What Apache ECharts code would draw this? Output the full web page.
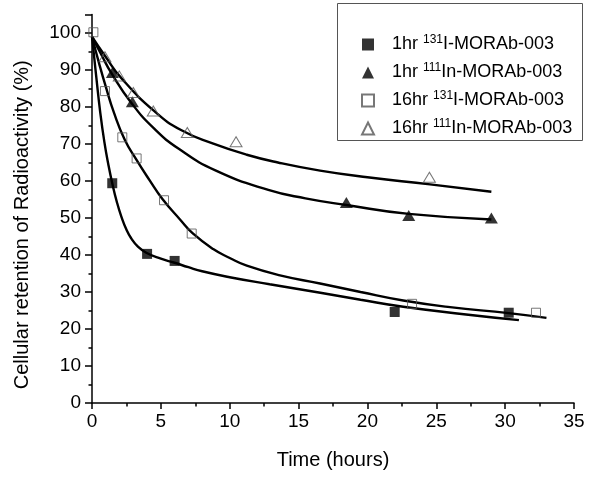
<!DOCTYPE html>
<html>
<head>
<meta charset="utf-8">
<script src="https://cdn.jsdelivr.net/npm/echarts@6/dist/echarts.min.js"></script>
<style>html,body{margin:0;padding:0;background:#fff}#c{width:600px;height:478px}</style>
</head>
<body>
<div id="c"></div>
<script>
// Measured data points [time (h), retention (%)]
const pts1hrI = [[1.47, 59.4], [4.0, 40.3], [6.0, 38.4], [21.98, 24.6], [30.26, 24.4]];
const pts1hrIn = [[1.48, 89.3], [2.93, 81.4], [18.47, 54.2], [23.0, 50.7], [29.0, 50.0]];
const pts16hrI = [[0.1, 100.2], [0.94, 84.3], [2.2, 71.8], [3.24, 66.1], [5.23, 54.8], [7.24, 45.8], [23.24, 26.8], [32.24, 24.4]];
const pts16hrIn = [[0.94, 93.6], [1.98, 88.4], [3.0, 83.9], [4.45, 78.9], [6.92, 73.1], [10.46, 70.6], [24.5, 61.0]];

// Fitted curves, points
const fit1hrI = [[0, 99], [0.3, 88.5], [0.6, 78.5], [0.9, 70.5], [1.2, 64.2], [1.47, 59.4], [1.8, 54.4], [2.13, 50.4], [2.53, 46.6], [2.85, 44.5], [3.3, 42.4], [3.94, 40.6], [5.0, 39.0], [6.0, 37.9], [7.0, 36.7], [8.0, 35.6], [10, 34.0], [12.9, 32.1], [16.58, 29.8], [19.5, 27.9], [22.6, 26.0], [27, 24.0], [31, 22.4]];
const fit16hrI = [[0, 99], [0.5, 92], [1, 85.5], [1.6, 78.4], [2.37, 71.2], [3.2, 65.9], [4.2, 60.1], [5.1, 55.2], [6.39, 49.6], [7.3, 45.9], [8.8, 41.6], [10, 39.2], [11.24, 37.1], [13.65, 34.5], [16.56, 32.3], [19.5, 30.0], [22.6, 27.7], [26, 25.9], [30.26, 24.3], [33, 23.0]];
const fit1hrIn = [[0, 99], [0.7, 94], [1.4, 89.2], [2.86, 81.1], [4.5, 74.2], [6.3, 68.7], [9, 62.8], [12.8, 57.6], [15.5, 55.3], [18.47, 53.5], [23, 51.1], [29, 49.6]];
const fit16hrIn = [[0, 99], [1, 93.5], [2.13, 87.8], [4.55, 78.8], [6.5, 73.7], [8.81, 70.1], [11.24, 67.1], [13.5, 65.0], [16.56, 62.8], [20, 61.0], [24.55, 59.1], [29, 57.1]];

const xTicks = {min: 0, max: 35, interval: 5};
const yTicks = {min: 0, max: 105, interval: 10};

const names = ['1hr 131I-MORAb-003', '1hr 111In-MORAb-003', '16hr 131I-MORAb-003', '16hr 111In-MORAb-003'];
const legendRich = {
  '1hr 131I-MORAb-003': '{g|}{a|1hr }{s|131}{a|I-MORAb-003}',
  '1hr 111In-MORAb-003': '{g|}{a|1hr }{s|111}{a|In-MORAb-003}',
  '16hr 131I-MORAb-003': '{g|}{a|16hr }{s|131}{a|I-MORAb-003}',
  '16hr 111In-MORAb-003': '{g|}{a|16hr }{s|111}{a|In-MORAb-003}'
};

const FONT = 'Liberation Sans, Arial, sans-serif';
const chart = echarts.init(document.getElementById('c'), null, {renderer: 'canvas'});

function fitLine(data) {
  return {type: 'line', data: data, smooth: 0.5, showSymbol: false, symbol: 'none', silent: true,
    lineStyle: {color: '#000', width: 2.4}, z: 1};
}
const openStyle = {color: 'rgba(255,255,255,0)', borderColor: '#555', borderWidth: 1};

chart.setOption({
  animation: false,
  backgroundColor: '#fff',
  grid: {left: 92, right: 26, top: 14.5, bottom: 75},
  graphic: [{type: 'rect', shape: {x: 337.5, y: 3.5, width: 245, height: 137}, style: {fill: 'none', stroke: '#555', lineWidth: 1}, z: 10}],
  legend: {
    orient: 'vertical', left: 356, top: 29, itemGap: 7, itemWidth: 12, itemHeight: 12,
    data: names,
    formatter: function (n) { return legendRich[n]; },
    textStyle: {
      fontFamily: FONT, color: '#000',
      rich: {
        g: {width: 13, height: 20},
        a: {fontSize: 18, fontFamily: FONT, color: '#000', lineHeight: 20},
        s: {fontSize: 12, fontFamily: FONT, color: '#000', lineHeight: 20, padding: [0, 0, 9, 0]}
      }
    }
  },
  xAxis: {
    type: 'value', min: xTicks.min, max: xTicks.max, interval: xTicks.interval,
    name: 'Time (hours)', nameLocation: 'middle', nameGap: 47,
    nameTextStyle: {fontFamily: FONT, fontSize: 20, color: '#000'},
    axisLine: {lineStyle: {color: '#000', width: 1.5}},
    axisTick: {show: true, length: 6, lineStyle: {color: '#000', width: 1.5}},
    minorTick: {show: true, splitNumber: 2, length: 3.5, lineStyle: {color: '#000', width: 1.5}},
    axisLabel: {fontFamily: FONT, fontSize: 19, color: '#000', margin: 9},
    splitLine: {show: false}
  },
  yAxis: {
    type: 'value', min: yTicks.min, max: yTicks.max, interval: yTicks.interval,
    name: 'Cellular retention of Radioactivity (%)', nameLocation: 'middle', nameGap: 60,
    nameTextStyle: {fontFamily: FONT, fontSize: 20, color: '#000', padding: [0, 32, 0, 0]},
    axisLine: {lineStyle: {color: '#000', width: 1.5}},
    axisTick: {show: true, length: 7, lineStyle: {color: '#000', width: 1.5}},
    minorTick: {show: true, splitNumber: 2, length: 3.5, lineStyle: {color: '#000', width: 1.5}},
    axisLabel: {fontFamily: FONT, fontSize: 19, color: '#000', margin: 11, showMaxLabel: false},
    splitLine: {show: false}
  },
  series: [
    fitLine(fit1hrI), fitLine(fit16hrI), fitLine(fit1hrIn), fitLine(fit16hrIn),
    {name: names[0], type: 'scatter', data: pts1hrI, symbol: 'rect', symbolSize: 10, itemStyle: {color: '#000'}, z: 3},
    {name: names[1], type: 'scatter', data: pts1hrIn, symbol: 'triangle', symbolSize: [13, 11], itemStyle: {color: '#000'}, z: 3},
    {name: names[2], type: 'scatter', data: pts16hrI, symbol: 'rect', symbolSize: 9, itemStyle: openStyle, z: 3},
    {name: names[3], type: 'scatter', data: pts16hrIn, symbol: 'triangle', symbolSize: [12, 10], itemStyle: openStyle, z: 3}
  ]
});
</script>
</body>
</html>
